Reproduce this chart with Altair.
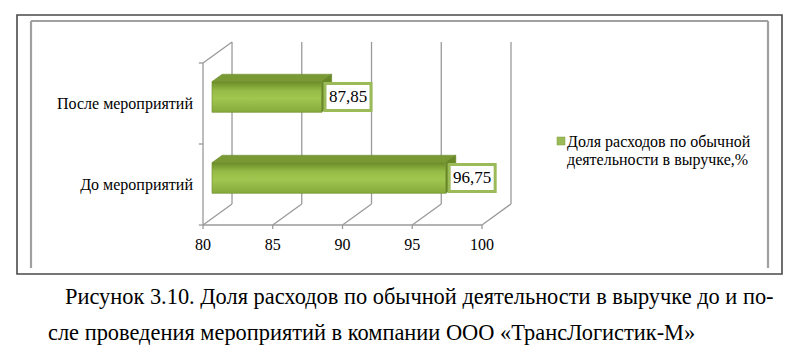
import altair as alt
import pandas as pd

# ---- data ----
categories = ["До мероприятий", "После мероприятий"]
values = [96.75, 87.85]
value_labels = ["96,75", "87,85"]
ticks = [80, 85, 90, 95, 100]
tick_labels = ["80", "85", "90", "95", "100"]
legend_lines = ["Доля расходов по обычной", "деятельности в выручке,%"]
caption_lines = [
    "Рисунок 3.10. Доля расходов по обычной деятельности в выручке до и по-",
    "сле проведения мероприятий в компании ООО «ТрансЛогистик-М»",
]

FONT = "Liberation Serif"
XMIN, XMAX = 80, 100
YTOP = 2.0
DX, DY = 2.08, 0.26      # 3-D depth offset (data units)
DF, DB = 0.31, 0.66      # bar front / back depth fraction
HALF = 0.19              # half bar thickness
GRID = "#9a9a9a"

xs = alt.Scale(domain=[XMIN, XMAX], range=[195, 474], nice=False, zero=False)
ys = alt.Scale(domain=[0, YTOP], range=[217, 55], nice=False, zero=False)

centers = [i + 0.5 for i in range(len(categories))]

# ---- 3-D frame segments ----
seg = []
for t in ticks:
    seg.append((t + DX, DY, t + DX, YTOP + DY))   # back wall verticals
    seg.append((t, 0, t + DX, DY))                 # floor diagonals
    seg.append((t, 0, t, -0.05))                   # tick marks
seg.append((XMIN, 0, XMAX, 0))                     # front floor edge
seg.append((XMIN, 0, XMIN, YTOP))                  # left wall front edge
seg.append((XMIN, YTOP, XMIN + DX, YTOP + DY))     # left wall top edge
for k in range(len(categories) + 1):
    seg.append((XMIN - 0.3, k, XMIN, k))           # category ticks
seg_df = pd.DataFrame(seg, columns=["x", "y", "x2", "y2"])

frame3d = alt.Chart(seg_df).mark_rule(color=GRID, strokeWidth=1.3).encode(
    x=alt.X("x:Q", scale=xs, axis=None),
    y=alt.Y("y:Q", scale=ys, axis=None),
    x2="x2:Q",
    y2="y2:Q",
)

# ---- bars ----
bars = pd.DataFrame({"cat": categories, "v": values, "c": centers, "lab": value_labels})
bars["fx"] = XMIN + DF * DX
bars["fx2"] = bars["v"] + DF * DX
bars["fy"] = bars["c"] - HALF + DF * DY
bars["fy2"] = bars["c"] + HALF + DF * DY

grad = alt.LinearGradient(
    gradient="linear",
    stops=[
        alt.GradientStop(color="#86a93b", offset=0),
        alt.GradientStop(color="#a0c650", offset=0.45),
        alt.GradientStop(color="#96bc47", offset=0.7),
        alt.GradientStop(color="#6b8c28", offset=1),
    ],
    x1=0, x2=0, y1=1, y2=0,
)

front = alt.Chart(bars).mark_rect(fill=grad, stroke="#6f8f2c", strokeWidth=0.6).encode(
    x=alt.X("fx:Q", scale=xs, axis=None),
    x2="fx2:Q",
    y=alt.Y("fy:Q", scale=ys, axis=None),
    y2="fy2:Q",
)

top_rows, side_rows = [], []
for cat, v, c in zip(categories, values, centers):
    for d in (DF, DB):
        top_rows.append({"cat": cat, "yy": c + HALF + d * DY, "xa": XMIN + d * DX, "xb": v + d * DX})
        side_rows.append({"cat": cat, "xx": v + d * DX, "ya": c - HALF + d * DY, "yb": c + HALF + d * DY})
top_df = pd.DataFrame(top_rows)
side_df = pd.DataFrame(side_rows)

top = alt.Chart(top_df).mark_area(orient="horizontal", color="#789934", stroke="#6a8a2a", strokeWidth=0.5).encode(
    y=alt.Y("yy:Q", scale=ys, axis=None),
    x=alt.X("xa:Q", scale=xs, axis=None),
    x2="xb:Q",
    detail="cat:N",
)
side = alt.Chart(side_df).mark_area(orient="vertical", color="#688826", stroke="#5d7a22", strokeWidth=0.5).encode(
    x=alt.X("xx:Q", scale=xs, axis=None),
    y=alt.Y("ya:Q", scale=ys, axis=None),
    y2="yb:Q",
    detail="cat:N",
)

# ---- value labels ----
bars["bx"] = bars["v"] + DF * DX + 0.25
bars["bx2"] = bars["v"] + DF * DX + 3.55
bars["bmid"] = (bars["bx"] + bars["bx2"]) / 2
bars["by"] = bars["c"] + DF * DY - 0.167
bars["by2"] = bars["c"] + DF * DY + 0.167
bars["bym"] = bars["c"] + DF * DY

lab_box = alt.Chart(bars).mark_rect(fill="white", stroke="#9bbb59", strokeWidth=3).encode(
    x=alt.X("bx:Q", scale=xs, axis=None),
    x2="bx2:Q",
    y=alt.Y("by:Q", scale=ys, axis=None),
    y2="by2:Q",
)
lab_txt = alt.Chart(bars).mark_text(font=FONT, fontSize=17, color="black", baseline="middle", align="center").encode(
    x=alt.X("bmid:Q", scale=xs, axis=None),
    y=alt.Y("bym:Q", scale=ys, axis=None),
    text="lab:N",
)

# ---- category labels ----
bars["lx"] = XMIN - 0.72
cat_txt = alt.Chart(bars).mark_text(font=FONT, fontSize=16, color="black", align="right", baseline="middle").encode(
    x=alt.X("lx:Q", scale=xs, axis=None),
    y=alt.Y("c:Q", scale=ys, axis=None),
    text="cat:N",
)

# ---- tick labels ----
tick_df = pd.DataFrame({"t": ticks, "lab": tick_labels})
tick_df["ty"] = -0.25
tick_txt = alt.Chart(tick_df).mark_text(font=FONT, fontSize=16, color="black", align="center", baseline="middle").encode(
    x=alt.X("t:Q", scale=xs, axis=None),
    y=alt.Y("ty:Q", scale=ys, axis=None),
    text="lab:N",
)

# ---- legend ----
one = pd.DataFrame({"a": [0]})
leg_sq = alt.Chart(one).mark_rect(color="#9bbb59", stroke="#7f9f3a", strokeWidth=0.5).encode(
    x=alt.value(549), x2=alt.value(557), y=alt.value(129), y2=alt.value(137)
)
leg_layers = [leg_sq]
for i, line in enumerate(legend_lines):
    leg_layers.append(
        alt.Chart(pd.DataFrame({"t": [line]})).mark_text(
            font=FONT, fontSize=16, color="black", align="left", baseline="middle"
        ).encode(x=alt.value(559), y=alt.value(134 + 18 * i), text="t:N")
    )

# ---- frames ----
outer = alt.Chart(one).mark_rect(fill="transparent", stroke="#4a4a4a", strokeWidth=1.6).encode(
    x=alt.value(9), x2=alt.value(774), y=alt.value(7), y2=alt.value(266)
)
inner_segs = [
    (23, 13, 23, 260),
    (23, 13, 760, 13),
    (760, 13, 760, 260),
]
inner_layers = [
    alt.Chart(one).mark_rule(color="#a0a0a0", strokeWidth=2.2).encode(
        x=alt.value(a), y=alt.value(b), x2=alt.value(c), y2=alt.value(d)
    )
    for a, b, c, d in inner_segs
]

# ---- caption ----
cap_layers = []
cap_pos = [(57, 289), (40, 325)]
for line, (cx, cy) in zip(caption_lines, cap_pos):
    cap_layers.append(
        alt.Chart(pd.DataFrame({"t": [line]})).mark_text(
            font=FONT, fontSize=22.4, color="black", align="left", baseline="middle"
        ).encode(x=alt.value(cx), y=alt.value(cy), text="t:N")
    )

chart = alt.layer(
    outer, *inner_layers, frame3d, top, side, front, lab_box, lab_txt, cat_txt, tick_txt,
    *leg_layers, *cap_layers
).properties(
    width=784, height=345, autosize="none", padding=0, background="white"
).configure_view(strokeWidth=0)

chart.save("out.html", embed_options={"renderer": "svg", "actions": False})
